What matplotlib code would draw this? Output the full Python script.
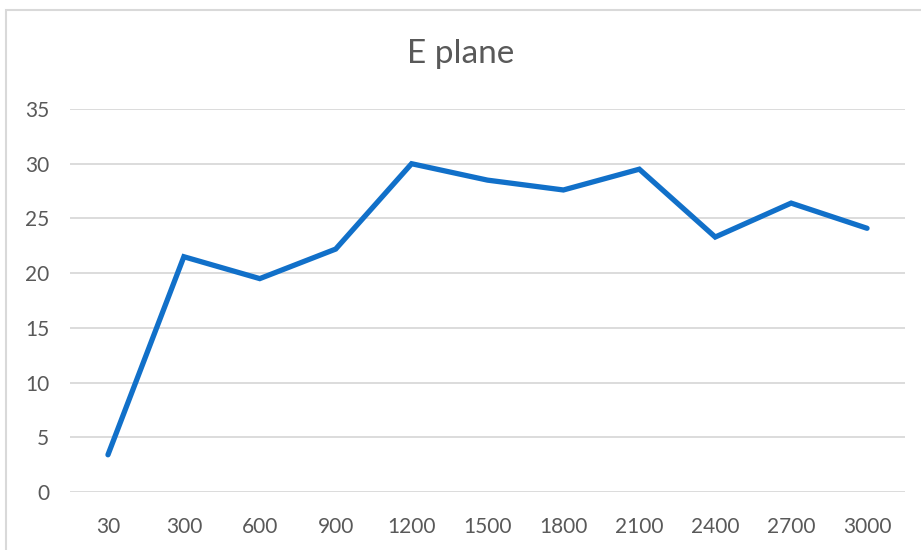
import matplotlib.pyplot as plt
from matplotlib.patches import Rectangle

# category labels and values
freqs = ['30', '300', '600', '900', '1200', '1500', '1800', '2100', '2400', '2700', '3000']
e_plane = [3.4, 21.5, 19.5, 22.2, 30.0, 28.5, 27.6, 29.5, 23.3, 26.4, 24.1]
y_ticks = [0, 5, 10, 15, 20, 25, 30, 35]

plt.rcParams['font.family'] = ['Lato', 'DejaVu Sans']

fig = plt.figure(figsize=(9.21, 5.5), dpi=100)
ax = fig.add_axes([70/921, 1 - 492/550, 835/921, 383/550])

# chart area border (only top/left visible in the crop)
fig.patches.append(Rectangle((6/921, -0.1), 1.2, 1 - 10/550 + 0.1,
                             transform=fig.transFigure, fill=False,
                             edgecolor='#d9d9d9', linewidth=1.5))

x = range(len(freqs))
ax.plot(x, e_plane, color='#1170c9', linewidth=3.8, solid_joinstyle='miter',
        solid_capstyle='round')

ax.set_xlim(-0.5, len(freqs) - 0.5)
ax.set_ylim(0, 35)
ax.set_yticks(y_ticks)
ax.set_xticks(list(x))
ax.set_xticklabels(freqs)
ax.grid(axis='y', color='#d9d9d9', linewidth=1.3)
ax.set_axisbelow(True)
for s in ax.spines.values():
    s.set_visible(False)
ax.tick_params(length=0, labelsize=15, labelcolor='#595959')
ax.tick_params(axis='x', pad=18)
ax.tick_params(axis='y', pad=15)

fig.text(0.5, 1 - 54/550, 'E plane', ha='center', va='center',
         fontsize=24, color='#595959')

fig.savefig('out.png', dpi=100)
